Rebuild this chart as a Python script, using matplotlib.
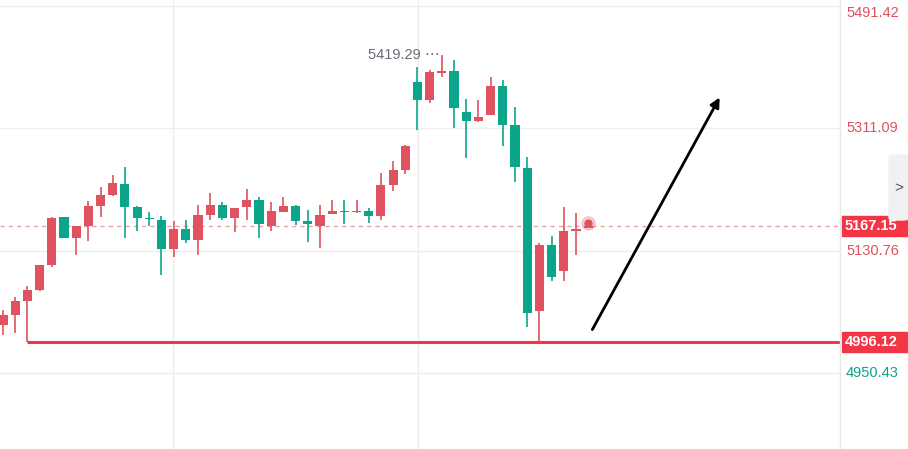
import matplotlib
matplotlib.use("Agg")
import matplotlib.pyplot as plt
from matplotlib.patches import FancyBboxPatch

opens  = [5021.2,5036.0,5056.6,5072.8,5109.7,5180.4,5149.5,5167.15,5196.7,5212.9,5229.1,5195.2,5178.2,5176.0,5133.3,5162.8,5146.5,5183.4,5198.1,5178.2,
          5195.2,5205.5,5167.15,5187.8,5196.7,5174.5,5167.15,5184.9,5188.5,5187.1,5189.3,5181.9,5227.6,5249.7,5379.4,5352.9,5392.7,5395.6,5335.2,5321.9,
          5330.8,5373.5,5316.0,5252.7,5041.9,5139.2,5100.8,5159.8,5164.2]
highs  = [5043.4,5062.5,5078.7,5109.7,5180.4,5180.4,5167.15,5204.0,5224.7,5242.3,5254.1,5196.7,5187.8,5181.9,5174.5,5176.0,5198.1,5215.8,5202.6,5193.7,
          5221.7,5209.9,5202.6,5209.9,5198.1,5190.8,5198.1,5205.5,5205.5,5205.5,5193.7,5245.3,5263.0,5286.6,5401.5,5397.1,5419.29,5412.0,5354.4,5352.9,
          5386.8,5382.4,5342.6,5268.9,5142.1,5152.4,5195.2,5186.3,5176.0]
lows   = [5006.5,5009.5,4996.12,5071.4,5106.7,5149.5,5124.4,5145.1,5180.4,5211.4,5149.5,5159.8,5167.15,5094.9,5121.5,5142.1,5124.4,5176.0,5176.0,5158.3,
          5176.0,5149.5,5159.8,5187.8,5168.6,5143.6,5134.7,5184.9,5170.1,5186.3,5171.6,5176.0,5218.8,5243.8,5308.7,5348.5,5386.8,5311.6,5267.4,5320.5,
          5330.8,5285.1,5232.0,5018.3,4996.12,5086.1,5086.1,5124.4,5164.2]
closes = [5036.0,5056.6,5072.8,5109.7,5179.0,5149.5,5167.15,5196.7,5212.9,5230.6,5195.2,5178.2,5176.8,5133.3,5162.8,5146.5,5183.4,5198.1,5178.2,5193.7,
          5205.5,5170.1,5189.3,5196.7,5174.5,5170.1,5183.4,5189.3,5187.1,5188.5,5181.9,5227.6,5249.7,5285.1,5352.9,5394.2,5395.6,5341.1,5321.9,5327.8,
          5373.5,5316.0,5254.1,5038.9,5139.2,5092.0,5159.8,5162.8,5167.15]

axis_labels = [5491.42, 5311.09, 5130.76, 4950.43]
last_price = 5167.15
support = 4996.12
peak_label = "5419.29"

plt.rcParams['font.family'] = ['Liberation Sans', 'DejaVu Sans']
RED = "#e0525f"; GREEN = "#0aa58a"
W, H = 908, 449
fig = plt.figure(figsize=(W/100, H/100), dpi=100)
ax = fig.add_axes([0, 0, 840/W, 1])
ymin, ymax = 4838.4, 5500.27
ax.set_ylim(ymin, ymax)
step = 12.19
ax.set_xlim(-3/step, 837/step)
ax.axis("off")

for p in [5491.42, 5311.09, 5130.76, 4950.43]:
    ax.axhline(p, color="#efefef", lw=1, zorder=0)
for xp in [173, 418]:
    ax.axvline((xp-3)/step, color="#efefef", lw=1, zorder=0)

for i, (o, h, l, c) in enumerate(zip(opens, highs, lows, closes)):
    col = RED if c >= o else GREEN
    ax.vlines(i, l, h, color=col, lw=1.2, zorder=2)
    b = max(abs(c-o), 1.5)
    ax.bar(i, b, bottom=min(o, c), width=0.75, color=col, zorder=3, linewidth=0)

ax.axhline(last_price, color="#f0a0a8", lw=1, ls=(0, (3, 3)), zorder=1)
ax.hlines(support, 2, 70, color="#f23645", lw=2.2, zorder=4)
ax.scatter([48], [last_price+4], s=90, color=RED, alpha=0.25, zorder=4)
ax.scatter([48], [last_price+4], s=25, color=RED, zorder=5)

ax.annotate("", xy=(721/step - 3/step, ymax - 95*(ymax-ymin)/H),
            xytext=(588/step, ymax - 332*(ymax-ymin)/H),
            arrowprops=dict(arrowstyle="-|>", color="black", lw=2, mutation_scale=14))
ax.text(436/step, 5419.29, peak_label + " ⋯", ha="right", va="center",
        fontsize=10.5, color="#6a6d78")

fig.add_artist(plt.Line2D([840/W, 840/W], [0, 1], color="#e8e8e8", lw=1))
def fy(p): return (p - ymin) / (ymax - ymin)
for p in axis_labels:
    col = GREEN if p < support else RED
    y = 1 - 13/H if p > 5400 else fy(p)
    fig.text(846/W, y, f"{p:.2f}", fontsize=10.5, color=col, va="center")
for p in [last_price, support]:
    fig.patches.append(FancyBboxPatch((842/W, fy(p)-10/H), 66/W, 20/H, boxstyle="square,pad=0",
                                      transform=fig.transFigure, color="#f23645"))
    fig.text(845/W, fy(p), f"{p:.2f}", fontsize=10.5, color="white", va="center", weight="bold")
fig.patches.append(FancyBboxPatch((889/W, 1-220/H), 19/W, 65/H, boxstyle="round,pad=0,rounding_size=0.005",
                                  transform=fig.transFigure, color="#f0f1f3"))
fig.text(899/W, 1-188/H, ">", fontsize=11, color="#555", ha="center", va="center")
fig.savefig("out.png", dpi=100)
